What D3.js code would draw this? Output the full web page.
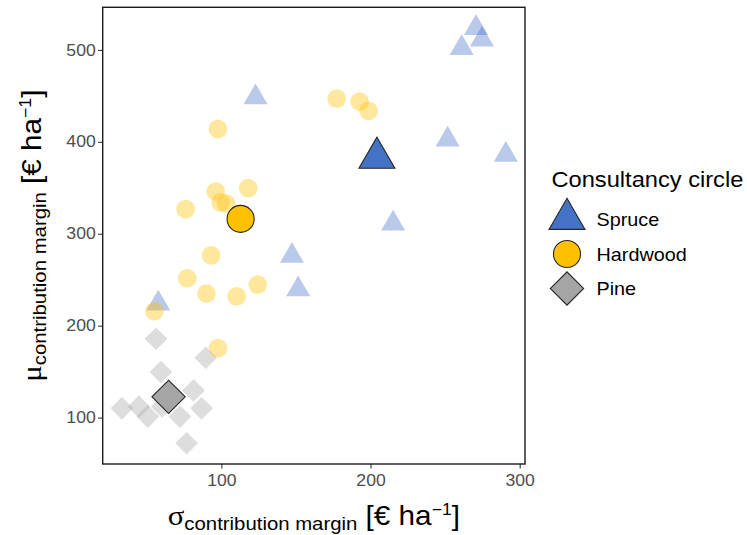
<!DOCTYPE html>
<html>
<head>
<meta charset="utf-8">
<script src="https://cdn.jsdelivr.net/npm/d3@7"></script>
<style>
  html, body { margin: 0; padding: 0; background: #fff; }
  svg { display: block; }
</style>
</head>
<body>
<svg width="747" height="535"></svg>
<script>
// consultancy circles
var groups = ['Spruce', 'Hardwood', 'Pine'];

var spruceX = [270.7, 274.7, 261.1, 122.9, 251.7, 290.7, 215.1, 147.3, 151.5, 57.7];
var spruceY = [523.8, 511.3, 502.0, 448.5, 402.4, 385.9, 311.0, 275.9, 239.6, 224.1];

var hardwoodX = [177.3, 192.7, 198.7, 97.7, 96.2, 99.5, 103.3, 118.0, 76.0, 93.1, 77.1, 90.0, 110.2, 124.4, 55.1, 97.7];
var hardwoodY = [447.0, 443.8, 433.7, 414.1, 346.0, 334.1, 332.7, 349.7, 326.9, 276.5, 251.6, 235.0, 232.0, 244.7, 215.7, 175.6];

var pineX = [56.2, 89.5, 59.5, 81.3, 33.3, 44.7, 50.7, 60.2, 72.2, 86.7, 76.7];
var pineY = [185.8, 165.1, 149.5, 129.6, 110.1, 111.9, 101.1, 112.1, 101.1, 110.1, 72.1];

// group means (big outlined markers)
var meanX = [204.3, 112.9, 64.6];
var meanY = [382.5, 316.2, 122.6];

var xTicks = [100, 200, 300];
var yTicks = [100, 200, 300, 400, 500];

var colors = {Spruce: '#4472C4', Hardwood: '#FFC000', Pine: '#A5A5A5'};
var shapes = {Spruce: d3.symbolTriangle, Hardwood: d3.symbolCircle, Pine: d3.symbolSquare};
var smallSize = {Spruce: 250, Hardwood: 275, Pine: 257};
var bigSize = {Spruce: 560, Hardwood: 575, Pine: 553};

var pts = [];
function addGroup(name, xs, ys) {
  xs.forEach(function (v, i) { pts.push({g: name, x: v, y: ys[i]}); });
}
addGroup('Spruce', spruceX, spruceY);
addGroup('Pine', pineX, pineY);
addGroup('Hardwood', hardwoodX, hardwoodY);

var means = groups.map(function (g, i) { return {g: g, x: meanX[i], y: meanY[i]}; });

var svg = d3.select('svg');
var pane = {left: 102.7, right: 525, top: 7.3, bottom: 464};
var FONT = '"Liberation Sans", Arial, Helvetica, sans-serif';
var GREEK = '"Liberation Serif", "DejaVu Serif", serif';
var SX = 1.1;

// ggplot style 5% expansion
var xr = d3.extent(pts, function (d) { return d.x; });
var yr = d3.extent(pts, function (d) { return d.y; });
var xp = (xr[1] - xr[0]) * 0.05, yp = (yr[1] - yr[0]) * 0.05;
var x = d3.scaleLinear().domain([xr[0] - xp, xr[1] + xp]).range([pane.left, pane.right]);
var y = d3.scaleLinear().domain([yr[0] - yp, yr[1] + yp]).range([pane.bottom, pane.top]);

function sym(d, big) {
  return d3.symbol().type(shapes[d.g]).size(big ? bigSize[d.g] : smallSize[d.g])();
}
function place(d) {
  return 'translate(' + x(d.x) + ',' + y(d.y) + ')' + (d.g === 'Pine' ? ' rotate(45)' : '');
}

// axes
var xAxis = svg.append('g')
  .attr('transform', 'translate(0,' + pane.bottom + ')')
  .call(d3.axisBottom(x).tickValues(xTicks).tickSize(4.5).tickPadding(6));
var yAxis = svg.append('g')
  .attr('transform', 'translate(' + pane.left + ',0)')
  .call(d3.axisLeft(y).tickValues(yTicks).tickSize(4.5).tickPadding(2.5));

[xAxis, yAxis].forEach(function (a) {
  a.select('.domain').remove();
  a.selectAll('line').attr('stroke', '#333').attr('stroke-width', 1.1);
  a.selectAll('text')
    .attr('font-family', FONT)
    .attr('font-size', '16px')
    .attr('fill', '#4d4d4d');
});
yAxis.selectAll('text')
  .attr('x', -7 / SX)
  .attr('transform', 'scale(' + SX + ',1)');
xAxis.selectAll('text').attr('transform', 'scale(' + SX + ',1)');

// points
svg.append('g').selectAll('path')
  .data(pts)
  .enter().append('path')
  .attr('d', function (d) { return sym(d, false); })
  .attr('transform', place)
  .attr('fill', function (d) { return colors[d.g]; })
  .attr('fill-opacity', 0.38);

svg.append('g').selectAll('path')
  .data(means)
  .enter().append('path')
  .attr('d', function (d) { return sym(d, true); })
  .attr('transform', place)
  .attr('fill', function (d) { return colors[d.g]; })
  .attr('stroke', '#262626')
  .attr('stroke-width', 1.1);

// panel border
svg.append('rect')
  .attr('x', pane.left)
  .attr('y', pane.top)
  .attr('width', pane.right - pane.left)
  .attr('height', pane.bottom - pane.top)
  .attr('fill', 'none')
  .attr('stroke', '#1a1a1a')
  .attr('stroke-width', 1.4);

// axis titles: greek + subscript + unit with superscript
function axisTitle(g, greek) {
  var t = g.append('text')
    .attr('text-anchor', 'middle')
    .attr('font-family', FONT)
    .attr('fill', '#000');
  t.append('tspan').attr('font-family', GREEK).attr('font-size', '28px').text(greek);
  t.append('tspan').attr('font-size', '18.5px').attr('dy', 5).text('contribution margin');
  t.append('tspan').attr('font-size', '27px').attr('dy', -5).text(' [€ ha');
  t.append('tspan').attr('font-size', '16px').attr('dy', -10).text('\u22121');
  t.append('tspan').attr('font-size', '27px').attr('dy', 10).text(']');
}
axisTitle(svg.append('g')
  .attr('transform', 'translate(' + ((pane.left + pane.right) / 2) + ',525) scale(' + SX + ',1)'), '\u03c3');
axisTitle(svg.append('g')
  .attr('transform', 'translate(41,' + ((pane.top + pane.bottom) / 2) + ') rotate(-90) scale(' + SX + ',1)'), '\u03bc');

// legend
var legend = svg.append('g');
legend.append('text')
  .attr('transform', 'translate(551.5,187) scale(' + SX + ',1)')
  .attr('font-family', FONT)
  .attr('font-size', '21.5px')
  .attr('fill', '#000')
  .text('Consultancy circle');

var keyY = [219, 254, 288.5];
var keys = legend.selectAll('g.key')
  .data(groups)
  .enter().append('g')
  .attr('class', 'key')
  .attr('transform', function (d, i) { return 'translate(567,' + keyY[i] + ')'; });
keys.append('path')
  .attr('d', function (d) { return d3.symbol().type(shapes[d]).size(bigSize[d])(); })
  .attr('transform', function (d) { return d === 'Pine' ? 'rotate(45)' : null; })
  .attr('fill', function (d) { return colors[d]; })
  .attr('stroke', '#262626')
  .attr('stroke-width', 1.1);
keys.append('text')
  .attr('transform', 'translate(29.5,6.5) scale(' + SX + ',1)')
  .attr('font-family', FONT)
  .attr('font-size', '18px')
  .attr('fill', '#000')
  .text(function (d) { return d; });
</script>
</body>
</html>
